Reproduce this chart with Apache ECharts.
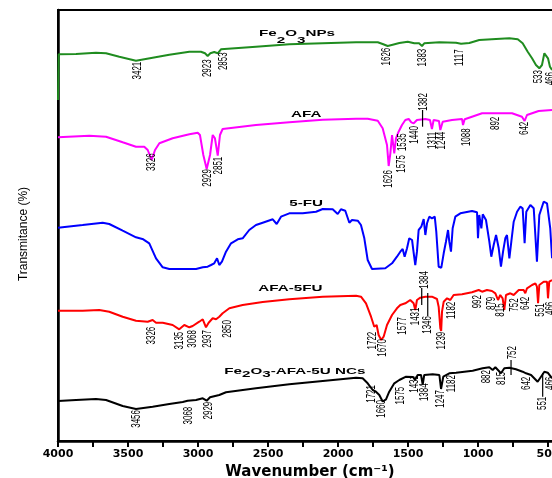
<!DOCTYPE html>
<html><head><meta charset="utf-8">
<script src="https://cdn.jsdelivr.net/npm/echarts@6/dist/echarts.min.js"></script>
<style>html,body{margin:0;padding:0;background:#fff;overflow:hidden}#c{width:552px;height:478px}</style>
</head><body><div id="c"></div>
<script>
// ---- axis ticks ----
const tickValues = [500,750,1000,1250,1500,1750,2000,2250,2500,2750,3000,3250,3500,3750,4000];
const tickLabels = [500,1000,1500,2000,2500,3000,3500,4000];

// ---- spectra (wavenumber, offset transmittance) ----
const feNPsWn = [4000,3995,3871,3729,3657,3562,3443,3324,3205,3062,2979,2950,2931,2912,2884,2859,2836,2586,2348,2109,1871,1716,1681,1645,1609,1562,1502,1455,1421,1400,1384,1276,1157,1121,1062,991,871,776,716,681,645,614,586,562,543,526,514,500,486,471];
const feNPsT = [341,386.7,387,388.3,387.7,384.3,380.3,383.3,386.3,389.3,389.3,387.7,385,387.7,389,387.7,391.7,394.3,396.7,397.7,398.7,398.7,397,395,396.3,398,399.3,397.7,397.7,395,397.7,398.7,398.3,397.3,398,401,402,402.7,401.7,397.7,389.3,382.7,376,372.7,376,387.7,388.7,382.7,374.3,371];

const afaWn = [4000,3776,3657,3538,3443,3384,3359,3331,3307,3276,3181,3062,3002,2986,2962,2938,2914,2895,2879,2859,2843,2824,2586,2348,2109,1871,1788,1716,1681,1650,1638,1626,1614,1598,1586,1567,1543,1519,1495,1476,1459,1436,1376,1343,1329,1317,1279,1269,1252,1186,1114,1107,1095,1043,971,924,912,900,757,686,667,650,567,471];
const afaT = [303.7,305.3,304.3,298.7,294.3,294.3,291,281,291,297.7,302.7,306.7,308.3,306,286,272,286,306,302.7,285.3,306,312,316,318.7,321.3,322.3,322.3,320.3,312.7,296,275,287.7,306,287.7,302.7,309.3,316,321,322,318.7,317.7,321,322,321,312,321,320,311,319.3,321,322,316,321.7,324.3,327.7,327.7,326,327.7,327.7,324.3,320,326,330,331];

const fuWn = [4000,3824,3681,3634,3538,3443,3391,3348,3300,3252,3205,3014,2966,2931,2907,2884,2864,2848,2829,2800,2764,2716,2681,2634,2586,2538,2466,2438,2407,2348,2252,2157,2109,2038,2002,1979,1948,1919,1900,1859,1836,1812,1788,1757,1662,1614,1579,1555,1538,1524,1507,1491,1471,1459,1448,1436,1424,1405,1388,1376,1364,1348,1329,1309,1298,1281,1262,1245,1229,1214,1205,1193,1181,1162,1126,1043,1007,1000,991,976,966,943,919,905,888,871,852,836,821,805,793,776,762,745,721,698,681,667,655,626,602,579,562,531,507,484,471];
const fuT = [213.3,216,218.3,217,210.3,203.7,201.7,197.7,182.7,173.7,172,172,173.7,174.3,176,177.7,182.7,176,179.3,189.3,197.7,201.7,202.7,211,216,218.3,221.7,217,224.3,227.7,227.7,229.3,232,231.7,227,231.7,230.3,218.3,221,220.3,216,202.7,181,172,172.7,177.7,184.3,189.3,192,184.3,192.7,202.7,201,187.7,176,189.3,211,214.3,222,206,217.7,224.3,222.7,224.3,209.3,174.3,173.3,187.7,199.3,211,199.3,189.3,212.7,224.3,227.7,230,228.7,202.7,226,212.7,226.7,221,199.3,184.3,196,206,192.7,174.3,189.3,202.7,206,182.7,199.3,219.3,229.3,234.3,232.7,197.7,229.3,236,232.7,179.3,226,239.3,237.7,212.7,182.7];

const afa5fuWn = [4000,3824,3705,3634,3538,3443,3359,3324,3300,3252,3181,3134,3098,3062,3038,2991,2966,2943,2924,2895,2871,2848,2824,2776,2681,2538,2348,2109,1871,1836,1800,1764,1741,1724,1710,1691,1681,1674,1650,1614,1579,1555,1519,1484,1460,1448,1436,1412,1376,1329,1293,1281,1269,1263,1257,1245,1221,1198,1174,1114,1043,995,971,936,900,876,857,841,824,812,800,769,745,709,674,662,650,614,590,579,571,562,531,507,500,491,471];
const afa5fuT = [130.3,130.3,131,129.3,124.3,120.3,119.3,121,118.3,118.3,116,111.7,116,113.7,115,119.3,121.7,113.7,118.3,122.7,121.7,124.3,127.7,132.7,136,139,141.7,144.3,145.3,144.3,137.7,124.3,114.3,116,106,101,100,104.3,116,126,132.7,136,137.7,141,137.7,131,141,143.3,144.3,144.3,142,134.3,112.7,110,129.3,139.3,142.7,141,146,146.7,148.7,151,149.3,151,150,147.7,141,146,142.7,131,146,147.7,146,151,151,147.7,152.7,156,157.7,154.3,137.7,156,159.3,159.3,142.7,159.3,161];

const ncsWn = [4000,3871,3729,3657,3538,3443,3324,3205,3109,3074,3014,2966,2938,2914,2848,2800,2586,2348,2109,1871,1824,1788,1752,1729,1705,1681,1657,1634,1598,1562,1514,1464,1450,1431,1407,1395,1384,1324,1276,1264,1248,1205,1157,1038,967,919,895,876,836,812,776,729,681,657,621,574,550,526,502,471];
const ncsT = [40,41,42,41,35,32,34.3,37,39,40.3,41,42.7,40.3,43.7,46,48.7,52.7,56.7,60,63.3,62.7,57.7,51,49.3,46,39.5,41.7,49.3,57.7,61,64.3,64,61,66,66,56.5,66,66.7,66,52,64.3,67.7,68.3,70.3,72.7,73.7,71,73.7,67.7,72.7,73.3,71.7,69.3,67.7,66,59.3,64.3,69.3,68.3,62.7];

// ---- curve names ----
const curveNames = ['{m|Fe}{s1|2}{m|O}{s1|3}{m|NPs}', '{m|AFA}', '{m|5-FU}', '{m|AFA-5FU}', '{m|Fe}{s2|2}{m|O}{s2|3}{m|-AFA-5U NCs}'];
const curveNameWn = [2564, 2336, 2348, 2569, 2812];
const curveNameLevel = [407.8, 326.7, 237.7, 152.3, 69.3];

// ---- peak annotations: text, wavenumber position, level of label top ----
const feNPsPeakText = ['3421','2923','2853','1626','1383','1117','533','466'];
const feNPsPeakWn = [3431,2929,2816,1657,1400,1129,569,479];
const feNPsPeakLevel = [379.3,381.7,388.7,393.3,392.3,391.7,371,369];

const afaPeakText = ['3326','2929','2851','1626','1575','1535','1440','1382','1311','1244','1088','892','642'];
const afaPeakWn = [3331,2932,2855,1639,1546,1538,1452,1389,1324,1264,1084,876,666];
const afaPeakLevel = [287.7,272,284.3,271,286,307.7,315,348,309.3,309.3,312.7,324.3,319.3];

const afa5fuPeakText = ['3326','3135','3068','2937','2850','1722','1670','1577','1431','1384','1346','1239','1182','992','879','815','752','642','551','466'];
const afa5fuPeakWn = [3331,3134,3038,2931,2788,1752,1682,1539,1446,1384,1359,1264,1188,1002,902,836,741,662,555,482];
const afa5fuPeakLevel = [114.3,109.3,111,111,121,109.3,102,124,133.5,170,125,109.3,139.3,146,144.3,137.7,142.7,144.3,137.7,139.3];

const ncsPeakText = ['3456','3068','2929','1721','1660','1575','1431','1384','1247','1182','882','815','752','642','551','466'];
const ncsPeakWn = [3443,3069,2924,1764,1686,1557,1455,1384,1269,1188,943,831,752,657,538,479];
const ncsPeakLevel = [31,34.3,39.3,56,41,54.3,66,57.7,51,66,71,69.3,95,64.3,44.3,64.3];

// leader lines: wavenumber, from level, to level
const leaderWn = [1396,1402,1359,764,538];
const leaderFrom = [331,153,148,81,68];
const leaderTo = [314.3,136,125,66,44.3];

const zip = (a, b) => a.map((v, i) => [v, b[i]]);

function spectrum(name, wn, t, color) {
  return {type:'line', name, data: zip(wn, t), showSymbol:false, symbol:'none',
    lineStyle:{color, width:2}, itemStyle:{color}, silent:true, z:3};
}
function peakLabels(texts, wn, level) {
  return {type:'custom', silent:true, clip:false, z:6,
    data: zip(wn, level),
    renderItem(params, api) {
      const p = api.coord([api.value(0), api.value(1)]);
      return {type:'text', x:p[0], y:p[1], rotation:Math.PI/2, scaleY:1.6,
        style:{text:texts[params.dataIndex], fill:'#000',
          font:'8px "Liberation Sans", Arial, sans-serif', align:'right', verticalAlign:'middle'}};
    }};
}
const richBase = {fontSize:9.5, fontWeight:'bold', fontFamily:'"Liberation Sans", Arial, sans-serif', fill:'#000'};

const option = {
  animation:false,
  backgroundColor:'#fff',
  grid:{left:58, top:10, width:504, height:431, show:true, borderColor:'#000', borderWidth:2,
    containLabel:false, outerBoundsMode:'none'},
  xAxis:{type:'value', min:400, max:4000, inverse:true,
    name:'Wavenumber (cm\u207B\u00B9)', nameLocation:'middle', nameGap:23,
    nameTextStyle:{fontFamily:'DejaVu Sans', fontWeight:'bold', fontSize:15, color:'#000'},
    axisLine:{lineStyle:{color:'#000', width:2.5}},
    axisTick:{show:true, customValues:tickValues, length:6, lineStyle:{width:2, color:'#000'}},
    axisLabel:{customValues:tickLabels, margin:8, formatter:(v)=>String(v),
      fontFamily:'DejaVu Sans', fontWeight:'bold', fontSize:11, color:'#000'},
    splitLine:{show:false}},
  yAxis:{type:'value', min:0, max:431,
    name:'Transmitance (%)', nameLocation:'middle', nameGap:28, nameRotate:90,
    nameTextStyle:{fontSize:12, color:'#000', fontFamily:'"Liberation Sans", Arial, sans-serif', padding:[0,17,0,0]},
    axisLine:{show:true, lineStyle:{color:'#000', width:2.5}},
    axisTick:{show:false}, axisLabel:{show:false}, splitLine:{show:false}},
  series:[
    spectrum('Fe2O3 NPs', feNPsWn, feNPsT, '#1f8c1f'),
    spectrum('AFA', afaWn, afaT, '#ff00ff'),
    spectrum('5-FU', fuWn, fuT, '#0000ff'),
    spectrum('AFA-5FU', afa5fuWn, afa5fuT, '#ff0000'),
    spectrum('Fe2O3-AFA-5U NCs', ncsWn, ncsT, '#000000'),
    peakLabels(feNPsPeakText, feNPsPeakWn, feNPsPeakLevel),
    peakLabels(afaPeakText, afaPeakWn, afaPeakLevel),
    peakLabels(afa5fuPeakText, afa5fuPeakWn, afa5fuPeakLevel),
    peakLabels(ncsPeakText, ncsPeakWn, ncsPeakLevel),
    {type:'custom', silent:true, clip:false, z:5, encode:{x:0, y:[1,2]},
      data: leaderWn.map((w,i)=>[w, leaderFrom[i], leaderTo[i]]),
      renderItem(params, api) {
        const a = api.coord([api.value(0), api.value(1)]);
        const b = api.coord([api.value(0), api.value(2)]);
        return {type:'line', shape:{x1:a[0], y1:a[1], x2:b[0], y2:b[1]}, style:{stroke:'#000', lineWidth:1.2}};
      }},
    {type:'custom', silent:true, clip:false, z:6,
      data: zip(curveNameWn, curveNameLevel),
      renderItem(params, api) {
        const p = api.coord([api.value(0), api.value(1)]);
        return {type:'text', x:p[0], y:p[1], scaleX:1.6,
          style:{text:curveNames[params.dataIndex], fill:'#000',
            font:'bold 9.5px "Liberation Sans", Arial, sans-serif', align:'left', verticalAlign:'middle',
            rich:{m:richBase,
              s1:Object.assign({}, richBase, {padding:[14,0,0,0]}),
              s2:Object.assign({}, richBase, {padding:[5,0,0,0]})}}};
      }}
  ]
};
const chart = echarts.init(document.getElementById('c'));
chart.setOption(option);
</script></body></html>
